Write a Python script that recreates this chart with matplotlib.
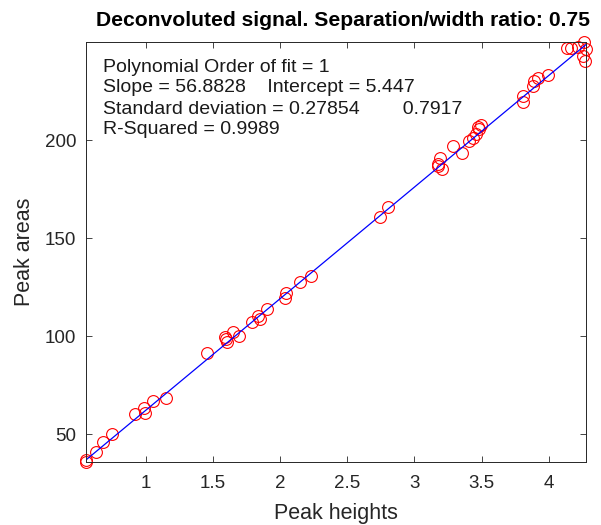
import matplotlib
matplotlib.use("Agg")
import matplotlib.pyplot as plt

# Peak heights vs peak areas
heights = [0.554, 0.554, 0.627, 0.679, 0.746, 0.918, 0.985, 0.993, 1.052, 1.149,
           1.455, 1.590, 1.597, 1.604, 1.649, 1.694, 1.791, 1.836, 1.851, 1.903,
           2.037, 2.045, 2.149, 2.231, 2.746, 2.806, 3.172, 3.179, 3.194, 3.209,
           3.291, 3.358, 3.403, 3.433, 3.455, 3.470, 3.478, 3.493, 3.806, 3.806,
           3.881, 3.888, 3.918, 3.993, 4.134, 4.164, 4.216, 4.254, 4.261, 4.270,
           4.278]
areas = [37.0, 35.9, 41.0, 46.1, 50.2, 60.4, 63.4, 60.9, 67.0, 68.5,
         91.4, 99.5, 98.5, 97.0, 102.1, 100.0, 107.2, 110.2, 108.7, 113.8,
         119.4, 121.9, 127.5, 130.6, 160.6, 166.2, 186.7, 188.0, 191.1, 185.5,
         197.2, 193.7, 199.7, 201.3, 203.3, 206.8, 205.8, 207.9, 222.6, 219.6,
         227.7, 230.3, 231.8, 233.3, 247.0, 247.2, 247.5, 243.0, 250.1, 240.2,
         246.5]

slope = 56.8828
intercept = 5.447
info_lines = ["Polynomial Order of fit = 1",
              "Slope = 56.8828    Intercept = 5.447",
              "Standard deviation = 0.27854        0.7917",
              "R-Squared = 0.9989"]

plt.rcParams['font.family'] = ['Liberation Sans', 'DejaVu Sans']
grey = '#262626'

W, H = 601, 525
fig = plt.figure(figsize=(W/100, H/100), dpi=100)
ax = fig.add_axes([86/W, 1 - 462/H, 500/W, 420/H])

xmin, xmax = min(heights), max(heights)
ax.plot(heights, areas, 'o', mfc='none', mec='red', ms=8.5, mew=0.8, clip_on=False)
ax.plot([xmin, xmax], [slope*xmin + intercept, slope*xmax + intercept],
        color='blue', lw=0.9)

ax.set_xlim(xmin, xmax)
ax.set_ylim(min(areas), max(areas))
ax.set_xticks([1, 1.5, 2, 2.5, 3, 3.5, 4])
ax.set_xticklabels(['1', '1.5', '2', '2.5', '3', '3.5', '4'])
ax.set_yticks([50, 100, 150, 200])
ax.tick_params(direction='in', top=True, right=True, length=4, width=0.6,
               labelsize=13.5, colors=grey)
ax.tick_params(axis='x', pad=9)
ax.tick_params(axis='y', pad=7)
for s in ax.spines.values():
    s.set_color(grey)
    s.set_linewidth(0.7)

ax.set_xlabel('Peak heights', fontsize=15.5, color=grey, labelpad=8)
ax.set_ylabel('Peak areas', fontsize=15.5, color=grey, labelpad=7)
fig.text(343/W, 1 - 20/H, 'Deconvoluted signal. Separation/width ratio: 0.75',
         fontsize=15.2, fontweight='bold', ha='center', va='center')

for i, line in enumerate(info_lines):
    fig.text(103/W, 1 - (67 + 21*i)/H, line, fontsize=14, color='#1a1a1a',
             va='center', ha='left')

fig.savefig('out.png', dpi=100)
